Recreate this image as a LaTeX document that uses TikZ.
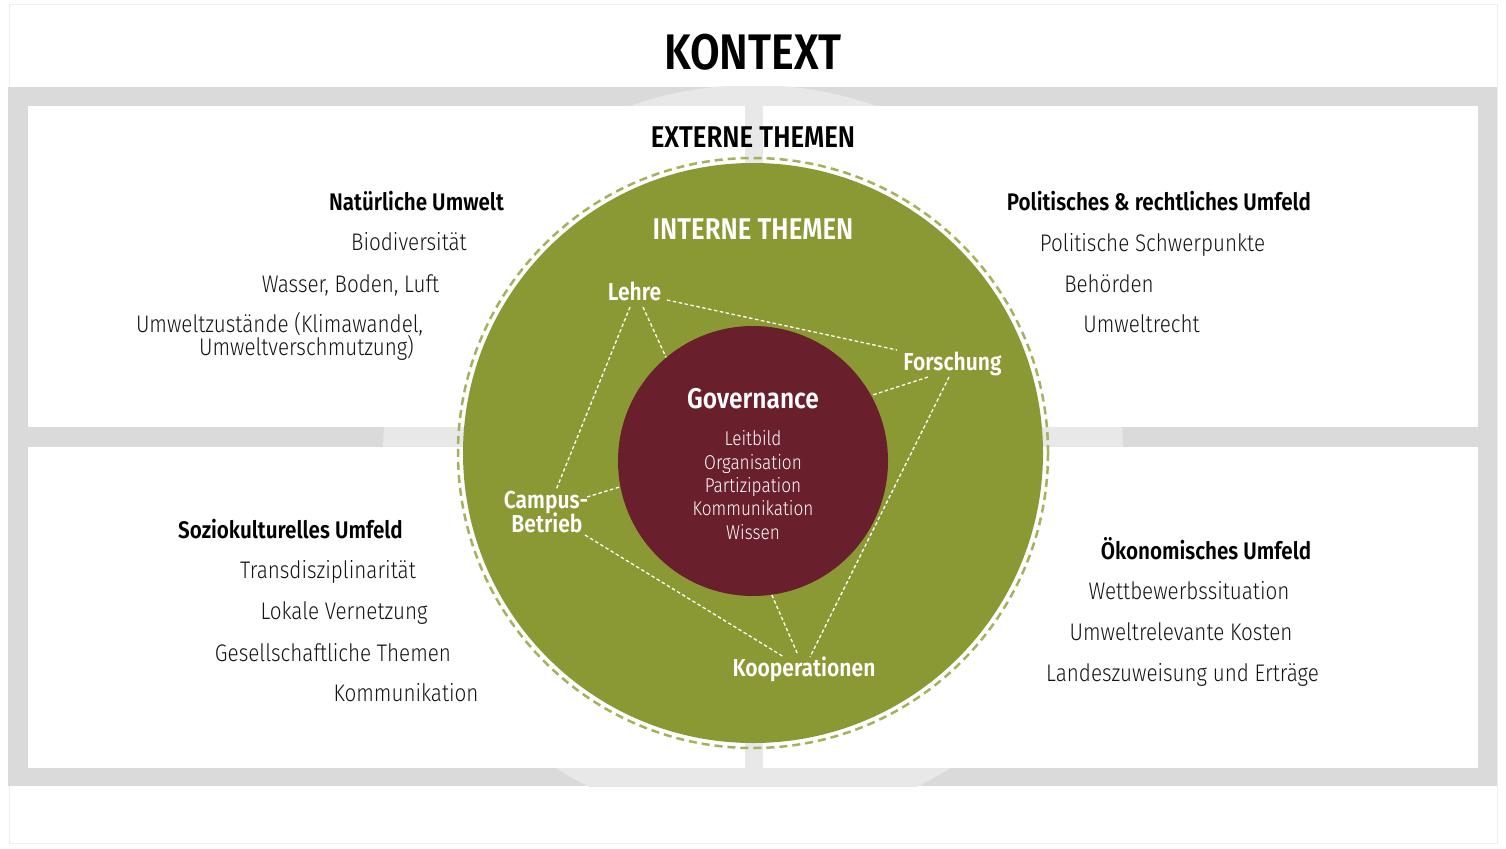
\documentclass[tikz,border=0pt]{standalone}
\usepackage{fontspec}
\newfontfamily\ltf{Fira Sans Light}[FakeStretch=0.86]
\newfontfamily\bdf{Fira Sans SemiBold}[FakeStretch=0.86]
\definecolor{bandgray}{HTML}{DADADA}
\definecolor{lightgray}{HTML}{E8E8E8}
\definecolor{framegray}{HTML}{EEEEEE}
\definecolor{ggreen}{HTML}{8A9934}
\definecolor{ringgreen}{HTML}{A4B15F}
\definecolor{burg}{HTML}{6A1F2D}
\tikzset{
  title/.style={font=\bdf\fontsize{50}{56}\selectfont, anchor=base, text=black, inner sep=0},
  theme/.style={font=\bdf\fontsize{30}{34}\selectfont, anchor=base, inner sep=0},
  head/.style={font=\bdf\fontsize{24}{28}\selectfont, anchor=base, text=black, inner sep=0},
  item/.style={font=\ltf\fontsize{24}{28}\selectfont, anchor=base, text=black!92, inner sep=0},
  area/.style={font=\bdf\fontsize{24.5}{29}\selectfont, anchor=base, text=white, inner sep=0},
  govhead/.style={font=\bdf\fontsize{28.5}{34}\selectfont, anchor=base, text=white, inner sep=0},
  govitem/.style={font=\ltf\fontsize{20}{23}\selectfont, anchor=base, text=white, inner sep=0},
  panel/.style={fill=white},
  link/.style={white, line width=1.3pt, dash pattern=on 3.5pt off 2.5pt},
}
\begin{document}
\begin{tikzpicture}[x=1pt,y=-1pt]
\useasboundingbox (0,0) rectangle (1506,848);
\fill[white] (0,0) rectangle (1506,848);
\draw[framegray, line width=1pt] (9,5) rectangle (1497,843);
% grey band and light circle
\fill[bandgray] (8,87) rectangle (1497,786);
\begin{scope}
  \clip (8,87) rectangle (1497,786);
  \fill[lightgray] (753,455) circle[radius=370];
\end{scope}
% white panels
\fill[panel] (28,106) rectangle (745,427);
\fill[panel] (763,106) rectangle (1478,427);
\fill[panel] (28,447) rectangle (745,768);
\fill[panel] (763,447) rectangle (1478,768);
% circles
\node[circle, fill=ggreen, minimum size=580pt, inner sep=0] (intern) at (753,453) {};
\draw[ringgreen, line width=2.5pt, dash pattern=on 8pt off 5pt] (753,453) circle[radius=295];
\node[circle, fill=burg, minimum size=270pt, inner sep=0] (gov) at (753,461) {};
% titles
\node[title] (kontext) at (753,70) {KONTEXT};
\node[theme, text=black] (extern) at (753,147) {EXTERNE THEMEN};
\node[theme, text=white] (internt) at (753,239) {INTERNE THEMEN};
% top left
\node[head] (nat) at (416.5,210) {Natürliche Umwelt};
\node[item] (n1) at (409,250) {Biodiversität};
\node[item] (n2) at (350.5,292) {Wasser, Boden, Luft};
\node[item] (n3a) at (279.5,332) {Umweltzustände (Klimawandel,};
\node[item] (n3b) at (306.5,355) {Umweltverschmutzung)};
% top right
\node[head] (pol) at (1159,210) {Politisches \& rechtliches Umfeld};
\node[item] (p1) at (1152.5,251) {Politische Schwerpunkte};
\node[item] (p2) at (1109,292) {Behörden};
\node[item] (p3) at (1141.5,332) {Umweltrecht};
% bottom left
\node[head] (soz) at (290.5,538) {Soziokulturelles Umfeld};
\node[item] (s1) at (328,578) {Transdisziplinarität};
\node[item] (s2) at (344,619) {Lokale Vernetzung};
\node[item] (s3) at (333,661) {Gesellschaftliche Themen};
\node[item] (s4) at (406,701) {Kommunikation};
% bottom right
\node[head] (oek) at (1206,559) {Ökonomisches Umfeld};
\node[item] (o1) at (1189,599) {Wettbewerbssituation};
\node[item] (o2) at (1181,640) {Umweltrelevante Kosten};
\node[item] (o3) at (1182.5,681) {Landeszuweisung und Erträge};
% internal areas
\node[area] (lehre) at (634.5,300) {Lehre};
\node[area] (forsch) at (952.5,370) {Forschung};
\node[area] (campus) at (546,508) {Campus-};
\node[area] (betrieb) at (547,532) {Betrieb};
\node[area] (koop) at (804,676) {Kooperationen};
% governance
\node[govhead] (govt) at (753,408) {Governance};
\node[govitem] (g1) at (753,445) {Leitbild};
\node[govitem] (g2) at (753,469) {Organisation};
\node[govitem] (g3) at (753,492) {Partizipation};
\node[govitem] (g4) at (753,515) {Kommunikation};
\node[govitem] (g5) at (753,539) {Wissen};
% connector end points
\coordinate (lehreA) at (630,307);
\coordinate (lehreB) at (643,307);
\coordinate (lehreC) at (667,300);
\coordinate (forschA) at (897,350);
\coordinate (forschB) at (928,377);
\coordinate (forschC) at (949,377);
\coordinate (campusA) at (556,490);
\coordinate (campusB) at (587,497);
\coordinate (campusC) at (585,535);
\coordinate (koopA) at (784,657);
\coordinate (koopB) at (798,655);
\coordinate (koopC) at (810,657);
% connectors
\draw[link] (lehreA) -- (campusA);
\draw[link] (lehreB) -- (gov.130);
\draw[link] (lehreC) -- (forschA);
\draw[link] (forschB) -- (gov.29);
\draw[link] (forschC) -- (koopC);
\draw[link] (campusB) -- (gov.191);
\draw[link] (campusC) -- (koopA);
\draw[link] (gov.278) -- (koopB);
\end{tikzpicture}
\end{document}
